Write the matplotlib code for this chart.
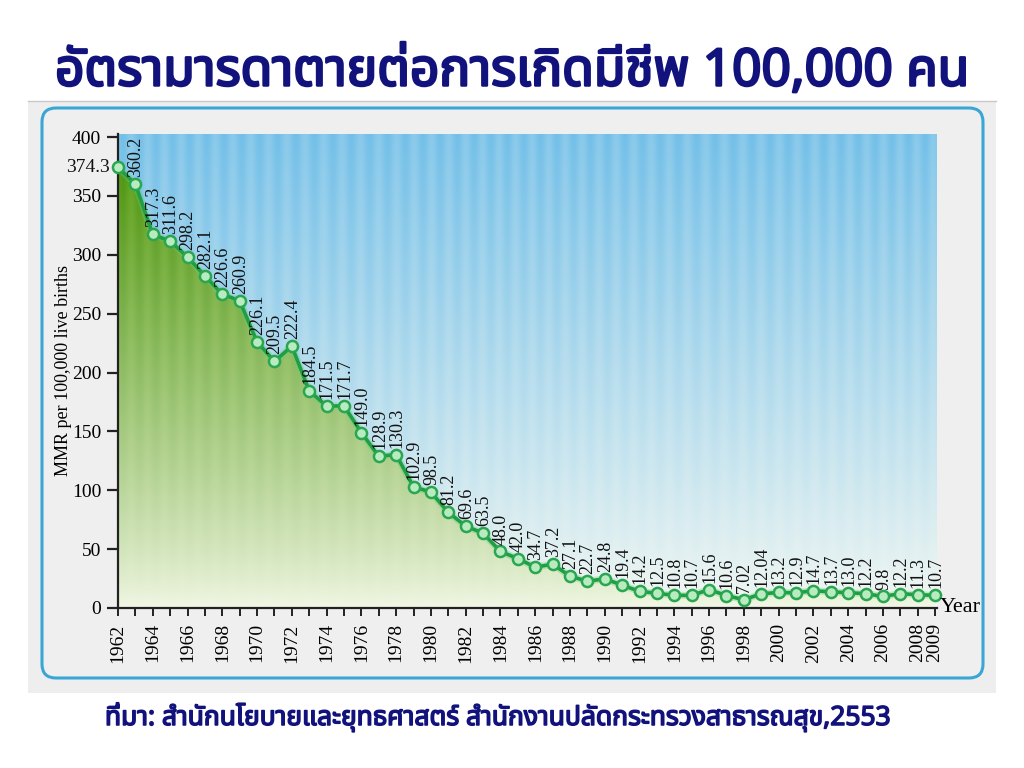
import numpy as np
import matplotlib
matplotlib.use('Agg')
import matplotlib.pyplot as plt
import matplotlib.patheffects as pe
from matplotlib import font_manager
from matplotlib.ft2font import FT2Font
from matplotlib.patches import FancyBboxPatch, Rectangle, Polygon

# data
years = list(range(1962, 2010))
mmr = [374.3, 360.2, 317.3, 311.6, 298.2, 282.1, 266.6, 260.9, 226.1, 209.5,
       222.4, 184.5, 171.5, 171.7, 149.0, 128.9, 130.3, 102.9, 98.5, 81.2,
       69.6, 63.5, 48.0, 42.0, 34.7, 37.2, 27.1, 22.7, 24.8, 19.4,
       14.2, 12.5, 10.8, 10.7, 15.6, 10.6, 7.02, 12.04, 13.2, 12.9,
       14.7, 13.7, 13.0, 12.2, 9.8, 12.2, 11.3, 10.7]
value_labels = ['374.3', '360.2', '317.3', '311.6', '298.2', '282.1', '226.6', '260.9',
                '226.1', '209.5', '222.4', '184.5', '171.5', '171.7', '149.0', '128.9',
                '130.3', '102.9', '98.5', '81.2', '69.6', '63.5', '48.0', '42.0',
                '34.7', '37.2', '27.1', '22.7', '24.8', '19.4', '14.2', '12.5',
                '10.8', '10.7', '15.6', '10.6', '7.02', '12.04', '13.2', '12.9',
                '14.7', '13.7', '13.0', '12.2', '9.8', '12.2', '11.3', '10.7']
xtick_years = list(range(1962, 2009, 2)) + [2009]
yticks = [0, 50, 100, 150, 200, 250, 300, 350, 400]

title = 'อัตรามารดาตายต่อการเกิดมีชีพ 100,000 คน'
source = 'ที่มา: สำนักนโยบายและยุทธศาสตร์ สำนักงานปลัดกระทรวงสาธารณสุข,2553'


def find_thai_font():
    preferred = ['Tahoma', 'Noto Sans Thai', 'Noto Sans Thai UI', 'Loma', 'Garuda',
                 'Norasi', 'Kinnari', 'Sawasdee', 'Umpush', 'Waree', 'Laksaman']
    found = {}
    for f in font_manager.fontManager.ttflist:
        if f.name in found:
            continue
        try:
            cmap = FT2Font(f.fname).get_charmap()
        except Exception:
            continue
        if 0x0E2D in cmap and 0x0E31 in cmap:
            found[f.name] = f.fname
    for name in preferred:
        if name in found:
            return name
    if found:
        return sorted(found)[0]
    return 'DejaVu Sans'


thai_font = find_thai_font()
serif = ['Liberation Serif', 'DejaVu Serif']
navy = '#12127c'

fig = plt.figure(figsize=(10.24, 7.68), dpi=100)
fig.patch.set_facecolor('white')

# background panel drawn in pixel coordinates
bg = fig.add_axes([0, 0, 1, 1])
bg.set_xlim(0, 1024)
bg.set_ylim(768, 0)
bg.axis('off')
bg.add_patch(Rectangle((28, 101), 968, 592, facecolor='#eeeeee', edgecolor='none'))
bg.plot([28, 996], [101, 101], color='#c8c8c8', lw=1)
bg.add_patch(FancyBboxPatch((42, 108), 941, 570, boxstyle='round,pad=0,rounding_size=14',
                            facecolor='#efefef', edgecolor='#3aa6d6', lw=2.2))

# the Thai font has no bold face, so thicken it with a stroke
fig.text(0.5, 1 - 72 / 768, title, ha='center', va='center', fontsize=37,
         fontweight='bold', color=navy, family=[thai_font, 'DejaVu Sans'],
         path_effects=[pe.withStroke(linewidth=1.8, foreground=navy)])
fig.text(105 / 1024, 1 - 717 / 768, source, ha='left', va='center', fontsize=19,
         fontweight='bold', color=navy, family=[thai_font, 'DejaVu Sans'],
         path_effects=[pe.withStroke(linewidth=1.1, foreground=navy)])

# main chart
ax = fig.add_axes([118 / 1024, 160 / 768, 818.8 / 1024, 474.5 / 768])
ax.set_xlim(1962, 2009.1)
ax.set_ylim(0, 403)

# blue striped background
h, w = 300, 470
t = np.linspace(0, 1, h)[:, None]          # 0 bottom -> 1 top
cols = np.arange(w)
stripe = 0.5 + 0.5 * np.sin(cols / w * 47 * 2 * np.pi + 1.3 * np.sin(cols / 37.0))
stripe = stripe[None, :]
top_col = np.array([0.45, 0.75, 0.91])
top_col2 = np.array([0.54, 0.79, 0.92])
bot_col = np.array([0.95, 0.97, 0.95])
mix = np.clip(t ** 0.9, 0, 1)[..., None]
tops = top_col * stripe[..., None] + top_col2 * (1 - stripe[..., None])
img = bot_col * (1 - mix) + tops * mix
ax.imshow(img, extent=(1962, 2009.1, 0, 403), origin='lower', aspect='auto', zorder=0)

# green gradient fill under the line
g_top = np.array([0.31, 0.59, 0.07])
g_top2 = np.array([0.38, 0.64, 0.12])
g_bot = np.array([0.95, 0.97, 0.90])
tg = np.clip(np.linspace(0, 1, h) / 0.93, 0, 1)[:, None, None]
gtops = g_top * stripe[..., None] + g_top2 * (1 - stripe[..., None])
gimg = g_bot * (1 - tg ** 0.8) + gtops * tg ** 0.8
poly = Polygon([(years[0], 0)] + list(zip(years, mmr)) + [(years[-1], 0)],
               closed=True, facecolor='none', edgecolor='none', transform=ax.transData)
ax.add_patch(poly)
gi = ax.imshow(gimg, extent=(1962, 2009.1, 0, 403), origin='lower', aspect='auto', zorder=1)
gi.set_clip_path(poly)

ax.plot(years, mmr, color='#5fd07a', lw=5, alpha=0.35, zorder=2)
ax.plot(years, mmr, color='#1f9e45', lw=2.6, marker='o', markersize=8,
        markerfacecolor='#b8ecc0', markeredgecolor='#2aa650', markeredgewidth=1.8, zorder=3,
        clip_on=False)

for yr, v, lab in zip(years[1:], mmr[1:], value_labels[1:]):
    ax.annotate(lab, (yr, v), xytext=(0.5, 5), textcoords='offset points', rotation=90,
                ha='center', va='bottom', fontsize=13, family=serif, color='#111111',
                zorder=4)
ax.annotate(value_labels[0], (years[0], mmr[0]), xytext=(-6, 0), textcoords='offset points',
            ha='right', va='center', fontsize=14, family=serif, color='#111111',
            annotation_clip=False)

for s in ['top', 'right']:
    ax.spines[s].set_visible(False)
for s in ['left', 'bottom']:
    ax.spines[s].set_linewidth(1.6)
    ax.spines[s].set_color('#222222')

ax.set_yticks(yticks)
ax.set_yticklabels([str(v) for v in yticks], fontsize=14, family=serif)
ax.set_xticks(years, minor=True)
ax.set_xticks(xtick_years)
ax.set_xticklabels([str(y) for y in xtick_years], rotation=90, fontsize=14, family=serif)
ax.tick_params(axis='y', direction='out', length=8, width=1.6, color='#222222', pad=4)
ax.tick_params(axis='x', which='both', direction='out', length=6, width=1.4,
               color='#222222', pad=5)
ax.set_ylabel('MMR per 100,000 live births', fontsize=13, family=serif, labelpad=0)
ax.text(1.003, 0.0, 'Year', transform=ax.transAxes, ha='left', va='center',
        fontsize=16, family=serif)

fig.savefig('out.png', dpi=100)
